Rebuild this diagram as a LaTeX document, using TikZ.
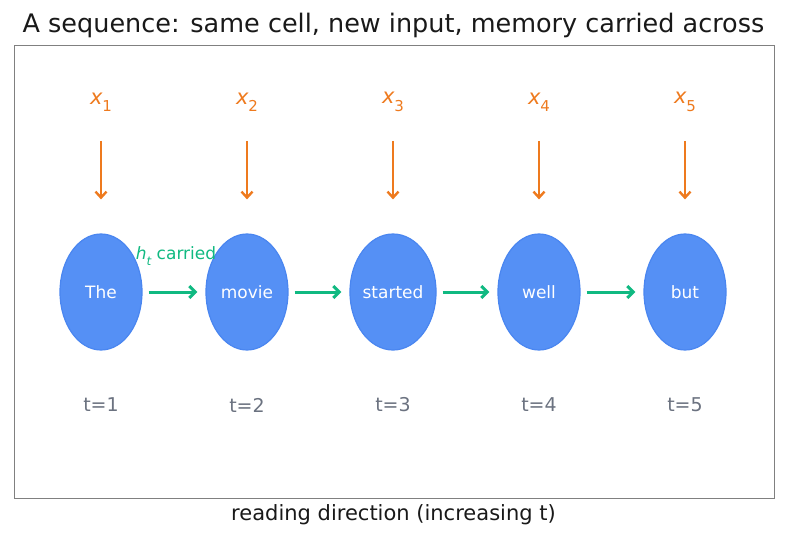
\documentclass[tikz,border=0pt]{standalone}
\usepackage{fontspec}
\setmainfont{DejaVu Sans}
\usetikzlibrary{shapes.geometric,arrows.meta}
\definecolor{cellblue}{HTML}{5590F5}
\definecolor{celledge}{HTML}{4A86F0}
\definecolor{inorange}{HTML}{EE7A1E}
\definecolor{memgreen}{HTML}{10B981}
\definecolor{tgray}{HTML}{6B7280}
\definecolor{framegray}{HTML}{808080}
\tikzset{
  cell/.style={ellipse,draw=celledge,line width=1.2pt,fill=cellblue,minimum width=82pt,minimum height=116pt,inner sep=0pt,text=white,font=\fontsize{17}{20}\selectfont},
  inlabel/.style={text=inorange,font=\fontsize{21}{24}\selectfont,inner sep=0pt},
  tlabel/.style={text=tgray,font=\fontsize{19}{22}\selectfont,inner sep=0pt},
  inarrow/.style={draw=inorange,line width=2.4pt,-{Straight Barb[length=6pt,width=11pt,line width=2.4pt]}},
  memarrow/.style={draw=memgreen,line width=3pt,-{Straight Barb[length=6pt,width=12pt,line width=3pt]}},
}
\newcommand{\xin}[1]{{\itshape x}\raisebox{-0.35em}{\fontsize{15}{17}\selectfont #1}}
\begin{document}
\begin{tikzpicture}[x=1pt,y=-1pt]
\useasboundingbox (0,0) rectangle (787,540);
\node[draw=framegray,line width=1.2pt,minimum width=760pt,minimum height=453pt,inner sep=0pt,anchor=north west] (frame) at (14,45) {};
\node[font=\fontsize{25.5}{30}\selectfont,text=black!90,inner sep=0pt] (title) at (393.5,25) {A sequence: same cell, new input, memory carried across};
\node[font=\fontsize{21}{24}\selectfont,text=black!90,inner sep=0pt] (xlab) at (393.5,515) {reading direction (increasing t)};
\foreach \i/\x/\w in {1/101/The,2/247/movie,3/393/started,4/539/well,5/685/but}{
  \node[cell] (c\i) at (\x,292) {\w};
  \node[inlabel] (x\i) at (\x,102) {\xin{\i}};
  \node[tlabel] (t\i) at (\x,405) {t=\i};
  \draw[inarrow,shorten <=39pt,shorten >=34pt] (\x,102) -- (c\i.north);
}
\foreach \a/\b in {1/2,2/3,3/4,4/5}{
  \draw[memarrow,shorten <=6pt,shorten >=8pt] (c\a.east) -- (c\b.west);
}
\node[text=memgreen,font=\fontsize{17}{20}\selectfont,inner sep=0pt] (hlab) at (176,256) {{\itshape h}\raisebox{-0.3em}{\fontsize{12}{14}\selectfont\itshape t} carried};
\end{tikzpicture}
\end{document}
